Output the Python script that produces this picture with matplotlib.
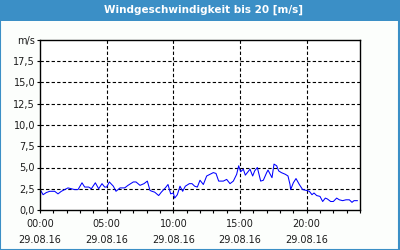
import matplotlib.pyplot as plt
from matplotlib.patches import Rectangle
from matplotlib.ticker import MultipleLocator

# Messzeitpunkte in Stunden (29.08.16) und Windgeschwindigkeit in m/s
stunden = [0.05, 0.23, 0.47, 0.73, 1.1, 1.35, 1.6, 1.85, 2.1, 2.35, 2.6, 2.85,
           3.15, 3.35, 3.65, 3.85, 4.15, 4.4, 4.65, 4.85, 5.0, 5.2, 5.5, 5.7,
           6.0, 6.35, 6.6, 7.0, 7.2, 7.5, 7.8, 8.05, 8.25, 8.4, 8.6, 8.9,
           9.1, 9.4, 9.6, 9.8, 10.0, 10.1, 10.3, 10.5, 10.7, 10.9, 11.2, 11.4,
           11.6, 11.8, 12.0, 12.25, 12.5, 12.75, 13.0, 13.2, 13.4, 13.75, 14.0,
           14.25, 14.5, 14.75, 14.9, 15.05, 15.25, 15.4, 15.6, 15.75, 15.95,
           16.1, 16.3, 16.55, 16.75, 17.0, 17.1, 17.4, 17.55, 17.75, 17.9,
           18.1, 18.4, 18.6, 18.75, 18.8, 19.0, 19.2, 19.45, 19.7, 20.0, 20.2,
           20.4, 20.55, 20.75, 21.0, 21.2, 21.4, 21.55, 21.8, 22.0, 22.25,
           22.45, 22.7, 22.95, 23.2, 23.4, 23.55, 23.8]
wind = [2.3, 1.8, 2.05, 2.2, 2.2, 1.9, 2.2, 2.4, 2.6, 2.5, 2.4, 2.4,
        3.2, 2.7, 2.7, 2.5, 3.2, 2.5, 3.1, 2.7, 2.7, 3.3, 2.8, 2.2,
        2.6, 2.6, 2.9, 3.3, 3.3, 2.9, 3.1, 3.4, 2.3, 2.2, 2.1, 1.7,
        2.1, 2.6, 3.0, 1.9, 2.0, 1.4, 1.8, 2.8, 2.2, 2.8, 3.1, 3.1,
        2.8, 2.7, 3.5, 3.0, 4.0, 4.2, 4.4, 4.3, 3.4, 3.4, 3.6,
        3.1, 3.4, 4.2, 5.2, 4.5, 4.8, 4.1, 4.5, 4.8, 4.0,
        4.6, 5.0, 3.4, 3.5, 4.4, 4.7, 3.8, 5.4, 5.2, 4.6,
        4.4, 4.2, 4.0, 3.0, 2.4, 3.2, 3.7, 3.0, 2.4, 2.3, 2.2,
        1.8, 2.0, 1.7, 1.6, 1.0, 1.4, 1.3, 1.0, 1.0, 1.4,
        1.2, 1.1, 1.2, 1.2, 0.9, 1.1, 1.1]

x_ticks = [0, 5, 10, 15, 20]
x_labels = ["00:00\n29.08.16", "05:00\n29.08.16", "10:00\n29.08.16",
            "15:00\n29.08.16", "20:00\n29.08.16"]
y_ticks = [0, 2.5, 5, 7.5, 10, 12.5, 15, 17.5, 20]
y_labels = ["0,0", "2,5", "5,0", "7,5", "10,0", "12,5", "15,0", "17,5", "m/s"]

blau = "#3b8fc6"
textfarbe = "#1c1c1c"

fig = plt.figure(figsize=(4, 2.5), dpi=100)
fig.patch.set_facecolor("#fcfefc")

# Titelleiste und Rahmen
fig.patches.append(Rectangle((0, 0.918), 1, 0.082, transform=fig.transFigure,
                             facecolor=blau, edgecolor="none", zorder=0))
fig.patches.append(Rectangle((0.001, 0.002), 0.997, 0.996, transform=fig.transFigure,
                             facecolor="none", edgecolor=blau, lw=1.5, zorder=1))
fig.text(0.51, 0.959, "Windgeschwindigkeit bis 20 [m/s]", color="white",
         fontsize=7.5, fontweight="bold", ha="center", va="center")

ax = fig.add_axes([0.1, 0.16, 0.8, 0.68])
ax.set_facecolor("white")
ax.plot(stunden, wind, color="#0000ff", lw=0.75)

ax.set_xlim(0, 24)
ax.set_ylim(0, 20)

ax.set_xticks(x_ticks)
ax.set_xticklabels(x_labels, linespacing=1.75)
ax.xaxis.set_minor_locator(MultipleLocator(1))
ax.set_yticks(y_ticks)
ax.set_yticklabels(y_labels)

ax.tick_params(axis="x", which="both", direction="out", length=2.5, width=0.8,
               labelsize=7, colors="black", labelcolor=textfarbe, pad=4)
ax.tick_params(axis="y", direction="out", length=2, width=0.8,
               labelsize=7, labelcolor=textfarbe, pad=1.5)

# Gitterlinien gestrichelt (nicht an den Rändern)
for xv in [5, 10, 15, 20]:
    ax.axvline(xv, color="black", lw=0.8, dashes=(3, 2), zorder=1)
for yv in [2.5, 5, 7.5, 10, 12.5, 15, 17.5]:
    ax.axhline(yv, color="black", lw=0.8, dashes=(3, 2), zorder=1)

for s in ax.spines.values():
    s.set_linewidth(1)
    s.set_color("black")

fig.savefig("out.png", dpi=100, facecolor=fig.get_facecolor())
